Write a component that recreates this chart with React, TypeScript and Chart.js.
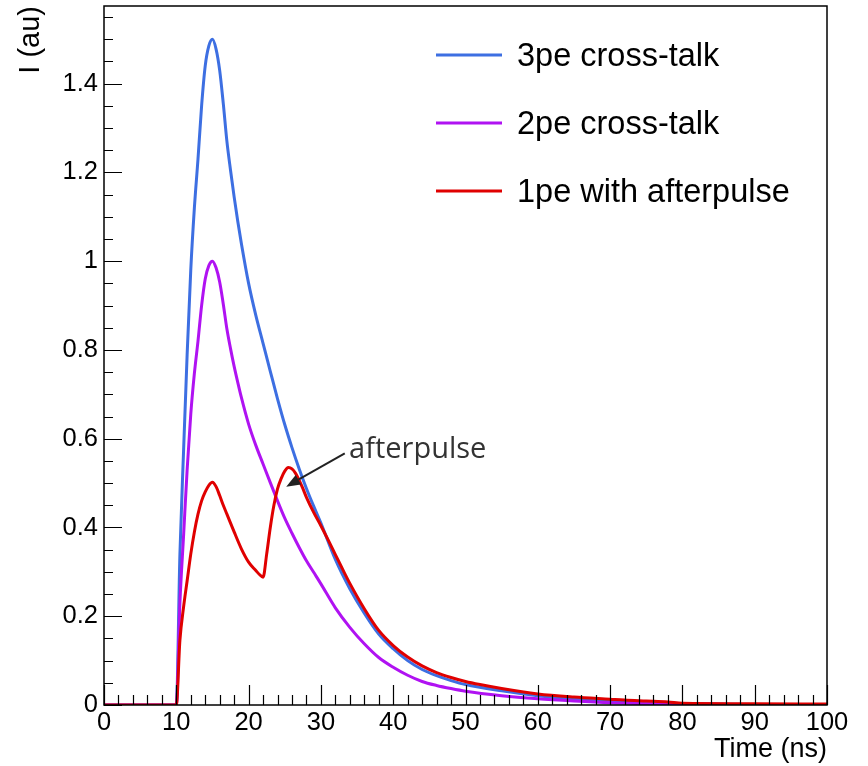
import React, { useEffect, useRef } from "react";
import { Chart, registerables } from "chart.js";

Chart.register(...registerables);

// ---- data ----
const seriesLabels = ["3pe cross-talk", "2pe cross-talk", "1pe with afterpulse"];
const seriesColors = ["#3d6fe2", "#b012f2", "#e00000"];

const timeMain = [
  0, 9.9, 10, 10.5, 11, 11.5, 12, 12.5, 13, 13.5,
  14, 14.5, 15, 15.5, 16, 16.5, 17, 17.5, 18, 18.5,
  19, 20, 21, 22, 23, 24, 25, 26, 27, 28,
  29, 30, 32, 34, 36, 38, 40, 42, 44, 46,
  48, 50, 55, 60, 65, 70, 75, 80, 90, 100,
];
const pe3 = [
  0, 0, 0, 0.34, 0.57, 0.79, 0.98, 1.12, 1.23, 1.35,
  1.44, 1.485, 1.5, 1.478, 1.43, 1.355, 1.27, 1.205, 1.145, 1.09,
  1.04, 0.95, 0.878, 0.815, 0.752, 0.69, 0.632, 0.58, 0.532, 0.488,
  0.448, 0.41, 0.328, 0.262, 0.207, 0.16, 0.127, 0.1, 0.08, 0.066,
  0.055, 0.046, 0.032, 0.021, 0.013, 0.008, 0.005, 0.003, 0.001, 0,
];
const pe2 = [
  0, 0, 0, 0.23, 0.38, 0.53, 0.655, 0.747, 0.82, 0.9,
  0.96, 0.99, 1.0, 0.985, 0.953, 0.903, 0.847, 0.803, 0.763, 0.727,
  0.693, 0.633, 0.585, 0.543, 0.501, 0.46, 0.421, 0.387, 0.355, 0.325,
  0.299, 0.273, 0.219, 0.175, 0.138, 0.107, 0.085, 0.067, 0.053, 0.044,
  0.037, 0.031, 0.021, 0.014, 0.009, 0.005, 0.003, 0.002, 0.001, 0,
];
const timeAfter = [
  0, 9.9, 10, 10.5, 11, 11.5, 12, 12.5, 13, 13.5,
  14, 14.5, 15, 15.5, 16, 16.5, 17, 18, 19, 20,
  21, 21.5, 22, 22.5, 23, 23.5, 24, 24.5, 25, 25.5,
  26, 26.5, 27, 27.5, 28, 29, 30, 31, 32, 33,
  34, 36, 38, 40, 42, 44, 46, 48, 50, 52,
  55, 60, 65, 70, 72, 75, 78, 80, 90, 100,
];
const pe1After = [
  0, 0, 0, 0.146, 0.22, 0.28, 0.34, 0.39, 0.43, 0.46,
  0.48, 0.495, 0.502, 0.492, 0.472, 0.45, 0.43, 0.39, 0.352, 0.322,
  0.303, 0.294, 0.288, 0.34, 0.4, 0.45, 0.487, 0.51, 0.527, 0.535,
  0.532, 0.522, 0.506, 0.488, 0.468, 0.434, 0.404, 0.372, 0.339, 0.306,
  0.274, 0.217, 0.168, 0.134, 0.108, 0.088, 0.073, 0.062, 0.053, 0.046,
  0.037, 0.025, 0.018, 0.013, 0.011, 0.009, 0.007, 0.004, 0.003, 0.002,
];

const xTitle = "Time (ns)";
const yTitle = "I (au)";
const annotationText = "afterpulse";

// ---- plugins ----
const framePlugin = {
  id: "rootFrame",
  afterDatasetsDraw(chart: any) {
    const { ctx, chartArea: a, scales } = chart;
    const x = scales.x;
    const y = scales.y;
    ctx.save();
    ctx.strokeStyle = "#000";
    ctx.lineWidth = 1.2;
    ctx.beginPath();
    for (let i = 0; i <= 50; i++) {
      const v = i * 2;
      const px = Math.round(x.getPixelForValue(v)) + 0.5;
      const len = i % 5 === 0 ? 20 : 10;
      ctx.moveTo(px, a.bottom);
      ctx.lineTo(px, a.bottom - len);
    }
    for (let i = 0; i * 0.05 <= y.max + 1e-9; i++) {
      const py = Math.round(y.getPixelForValue(i * 0.05)) + 0.5;
      const len = i % 4 === 0 ? 18 : 9;
      ctx.moveTo(a.left, py);
      ctx.lineTo(a.left + len, py);
    }
    ctx.stroke();
    ctx.lineWidth = 1.5;
    ctx.strokeRect(a.left, a.top, a.right - a.left, a.bottom - a.top);
    ctx.restore();
  },
};

const legendPlugin = {
  id: "rootLegend",
  afterDraw(chart: any) {
    const { ctx } = chart;
    ctx.save();
    chart.data.datasets.forEach((ds: any, i: number) => {
      const yy = 55 + i * 68;
      ctx.strokeStyle = ds.borderColor;
      ctx.lineWidth = 3;
      ctx.beginPath();
      ctx.moveTo(436, yy);
      ctx.lineTo(502, yy);
      ctx.stroke();
      ctx.fillStyle = "#000";
      ctx.font = '32.5px "Liberation Sans"';
      ctx.textBaseline = "middle";
      ctx.textAlign = "left";
      ctx.fillText(ds.label, 517, yy + 2);
    });
    ctx.restore();
  },
};

const annotationPlugin = {
  id: "arrowNote",
  afterDraw(chart: any) {
    const { ctx, scales } = chart;
    const x = scales.x;
    const y = scales.y;
    const tipX = x.getPixelForValue(25.2);
    const tipY = y.getPixelForValue(0.492);
    const tailX = x.getPixelForValue(33.3);
    const tailY = y.getPixelForValue(0.567);
    ctx.save();
    ctx.strokeStyle = "#222";
    ctx.fillStyle = "#222";
    ctx.lineWidth = 2;
    const ang = Math.atan2(tipY - tailY, tipX - tailX);
    const headLen = 14;
    const headW = 5.5;
    const bx = tipX - headLen * Math.cos(ang);
    const by = tipY - headLen * Math.sin(ang);
    ctx.beginPath();
    ctx.moveTo(tailX, tailY);
    ctx.lineTo(bx, by);
    ctx.stroke();
    ctx.beginPath();
    ctx.moveTo(tipX, tipY);
    ctx.lineTo(bx + headW * Math.sin(ang), by - headW * Math.cos(ang));
    ctx.lineTo(bx - headW * Math.sin(ang), by + headW * Math.cos(ang));
    ctx.closePath();
    ctx.fill();
    ctx.fillStyle = "#333";
    ctx.font = '29px "Open Sans"';
    ctx.textAlign = "left";
    ctx.textBaseline = "alphabetic";
    ctx.fillText(annotationText, x.getPixelForValue(33.9), y.getPixelForValue(0.557));
    ctx.restore();
  },
};

export default function App() {
  const ref = useRef<HTMLCanvasElement | null>(null);

  useEffect(() => {
    if (!ref.current) return;
    const mk = (ts: number[], vs: number[]) => ts.map((t, i) => ({ x: t, y: vs[i] }));
    const tickFont = { family: "Liberation Sans", size: 25.5 };
    const chart = new Chart(ref.current, {
      type: "line",
      data: {
        datasets: [
          {
            label: seriesLabels[0],
            data: mk(timeMain, pe3),
            borderColor: seriesColors[0],
            borderWidth: 3,
            pointRadius: 0,
            cubicInterpolationMode: "monotone",
            order: 2,
          },
          {
            label: seriesLabels[1],
            data: mk(timeMain, pe2),
            borderColor: seriesColors[1],
            borderWidth: 3,
            pointRadius: 0,
            cubicInterpolationMode: "monotone",
            order: 1,
          },
          {
            label: seriesLabels[2],
            data: mk(timeAfter, pe1After),
            borderColor: seriesColors[2],
            borderWidth: 3,
            pointRadius: 0,
            cubicInterpolationMode: "monotone",
            order: 0,
          },
        ],
      } as any,
      options: {
        animation: false,
        responsive: false,
        layout: { padding: { left: 0, right: 41, top: 6, bottom: 0 } },
        plugins: { legend: { display: false }, tooltip: { enabled: false } },
        scales: {
          x: {
            type: "linear",
            min: 0,
            max: 100,
            grid: { display: false, drawTicks: false },
            border: { display: false },
            ticks: {
              stepSize: 10,
              font: tickFont,
              color: "#000",
              padding: 3,
              maxRotation: 0,
              autoSkip: false,
            },
            title: {
              display: true,
              text: xTitle,
              align: "end",
              color: "#000",
              font: { family: "Liberation Sans", size: 27 },
              padding: { top: 0, bottom: 0 },
            },
            afterFit: (s: any) => {
              s.height = 61;
              s.paddingLeft = 0;
              s.paddingRight = 0;
            },
          },
          y: {
            type: "linear",
            min: 0,
            max: 1.575,
            grid: { display: false, drawTicks: false },
            border: { display: false },
            ticks: {
              stepSize: 0.2,
              includeBounds: false,
              font: tickFont,
              color: "#000",
              padding: 6,
              callback: (v: any) => String(parseFloat(Number(v).toFixed(2))),
            },
            title: {
              display: true,
              text: yTitle,
              align: "end",
              color: "#000",
              font: { family: "Liberation Sans", size: 29 },
              padding: { top: 14, bottom: 0 },
            },
            afterFit: (s: any) => {
              s.width = 104;
              s.paddingTop = 0;
              s.paddingBottom = 0;
            },
          },
        },
      } as any,
      plugins: [framePlugin, legendPlugin, annotationPlugin],
    });
    return () => chart.destroy();
  }, []);

  return (
    <div style={{ position: "absolute", left: 0, top: 0, width: 868, height: 766, background: "#fff" }}>
      <canvas ref={ref} width={868} height={766} style={{ display: "block" }} />
    </div>
  );
}
